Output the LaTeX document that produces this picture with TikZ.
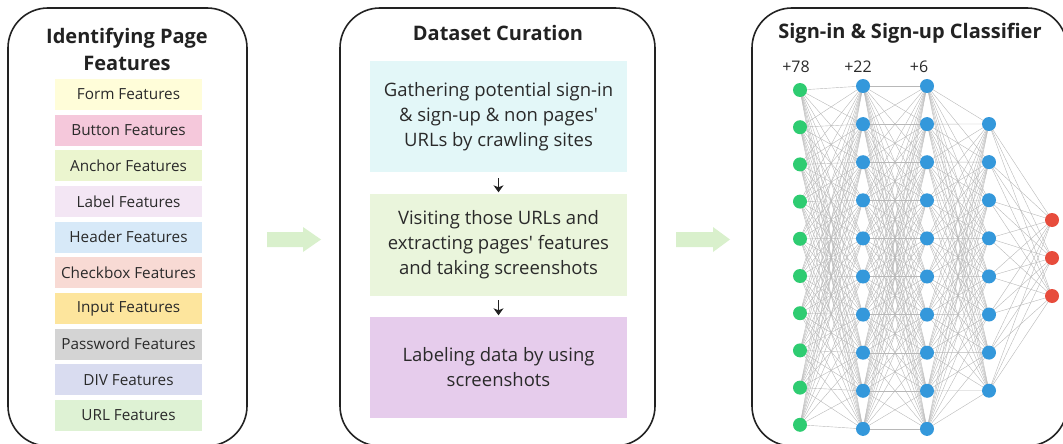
\documentclass[tikz,border=0pt]{standalone}
\usepackage{fontspec}
\setmainfont{Open Sans}
\usetikzlibrary{arrows.meta}

\definecolor{ink}{HTML}{222222}
\definecolor{txt}{HTML}{2A2A2A}
\definecolor{cForm}{HTML}{FFFDD9}
\definecolor{cButton}{HTML}{F5C8DB}
\definecolor{cAnchor}{HTML}{EBF5CF}
\definecolor{cLabel}{HTML}{F3E6F4}
\definecolor{cHeader}{HTML}{D7E9F8}
\definecolor{cCheck}{HTML}{F8DAD4}
\definecolor{cInput}{HTML}{FDE59D}
\definecolor{cPass}{HTML}{D4D4D4}
\definecolor{cDiv}{HTML}{D9DCF0}
\definecolor{cUrl}{HTML}{DEF2D4}
\definecolor{cGather}{HTML}{E3F7F8}
\definecolor{cVisit}{HTML}{EAF5DC}
\definecolor{cLabeling}{HTML}{E6CCEC}
\definecolor{flow}{HTML}{D9F0CC}
\definecolor{nGreen}{HTML}{2ECC71}
\definecolor{nBlue}{HTML}{3498DB}
\definecolor{nRed}{HTML}{E74C3C}
\definecolor{wire}{HTML}{B8B8B8}

\begin{document}
\begin{tikzpicture}[x=1pt,y=-1pt,
  panel/.style={draw=ink,line width=1.6pt,rounded corners=40pt},
  title/.style={font=\fontsize{20}{27}\selectfont\bfseries,text=ink,align=center,inner sep=0pt},
  feat/.style={minimum width=147pt,minimum height=31pt,inner sep=0pt,
    font=\fontsize{15.3}{18}\selectfont,text=txt},
  stage/.style={minimum width=257pt,inner sep=0pt,align=center,
    font=\fontsize{18.5}{25}\selectfont,text=txt},
  flowarrow/.style={-{Stealth[length=7pt,width=10pt,inset=2pt]},line width=1.6pt,draw=ink},
  neuron/.style={circle,minimum size=14pt,inner sep=0pt},
  wireline/.style={draw=wire,line width=0.4pt},
  count/.style={font=\fontsize{16}{18}\selectfont,text=txt,inner sep=0pt}
]
\useasboundingbox (0,0) rectangle (1063,444);
\clip (0,0) rectangle (1063,444);

% ---------- panel frames ----------
\draw[panel] (8,8) rectangle (247,446);
\draw[panel] (340,8) rectangle (655,446);
\draw[panel] (752,8) rectangle (1067,446);

% ---------- panel 1: page features ----------
\node[title] (t1) at (127,49) {Identifying Page\\Features};
\foreach \name/\col [count=\i from 0] in {Form/cForm,Button/cButton,Anchor/cAnchor,
    Label/cLabel,Header/cHeader,Checkbox/cCheck,Input/cInput,Password/cPass,
    DIV/cDiv,URL/cUrl}
  \node[feat,fill=\col] (f\i) at (128.5,{94.5+35.67*\i}) {\name\ Features};

% ---------- panel 2: dataset curation ----------
\node[title] (t2) at (498,33) {Dataset Curation};
\node[stage,fill=cGather,minimum height=111pt] (s1) at (498.5,116.5)
  {Gathering potential sign-in\\\& sign-up \& non pages\textquotesingle\\URLs by crawling sites};
\node[stage,fill=cVisit,minimum height=102pt] (s2) at (498.5,245)
  {Visiting those URLs and\\extracting pages\textquotesingle\ features\\and taking screenshots};
\node[stage,fill=cLabeling,minimum height=101pt] (s3) at (498.5,367.5)
  {Labeling data by using\\screenshots};
\draw[flowarrow,shorten <=6pt,shorten >=1.5pt] (s1.south) -- (s2.north);
\draw[flowarrow,shorten <=4pt,shorten >=1.5pt] (s2.south) -- (s3.north);

% ---------- block arrows between panels ----------
\fill[flow] (267,232) -- (303,232) -- (303,227) -- (321,239.5) -- (303,252)
  -- (303,247) -- (267,247) -- cycle;
\fill[flow] (676,232) -- (713,232) -- (713,227) -- (730,239.5) -- (713,252)
  -- (713,247) -- (676,247) -- cycle;

% ---------- panel 3: classifier network ----------
\node[title] (t3) at (910,33) {Sign-in \& Sign-up Classifier};

\foreach \i in {1,...,10} {
  \coordinate (pa\i) at (800,{90+37.2*(\i-1)});
  \coordinate (pb\i) at (863,{86+38.1*(\i-1)});
  \coordinate (pc\i) at (927,{86+38.1*(\i-1)});
}
\foreach \i in {1,...,8}
  \coordinate (pd\i) at (989,{124+38.1*(\i-1)});
\foreach \i/\y in {1/220,2/258,3/296}
  \coordinate (pe\i) at (1052,\y);

% connections (drawn first, under the neurons)
\foreach \i in {1,...,10}
  \foreach \j in {1,...,10} {
    \draw[wireline] (pa\i) -- (pb\j);
    \draw[wireline] (pb\i) -- (pc\j);
  }
\foreach \i in {1,...,10}
  \foreach \j in {1,...,8}
    \draw[wireline] (pc\i) -- (pd\j);
\foreach \i in {1,...,8}
  \foreach \j in {1,...,3}
    \draw[wireline] (pd\i) -- (pe\j);

% neurons
\foreach \i in {1,...,10} {
  \node[neuron,fill=nGreen] (na\i) at (pa\i) {};
  \node[neuron,fill=nBlue] (nb\i) at (pb\i) {};
  \node[neuron,fill=nBlue] (nc\i) at (pc\i) {};
}
\foreach \i in {1,...,8}
  \node[neuron,fill=nBlue] (nd\i) at (pd\i) {};
\foreach \i in {1,...,3}
  \node[neuron,fill=nRed] (ne\i) at (pe\i) {};

\node[count] (k1) at (796,67) {+78};
\node[count] (k2) at (858,67) {+22};
\node[count] (k3) at (919,67) {+6};
\end{tikzpicture}
\end{document}
